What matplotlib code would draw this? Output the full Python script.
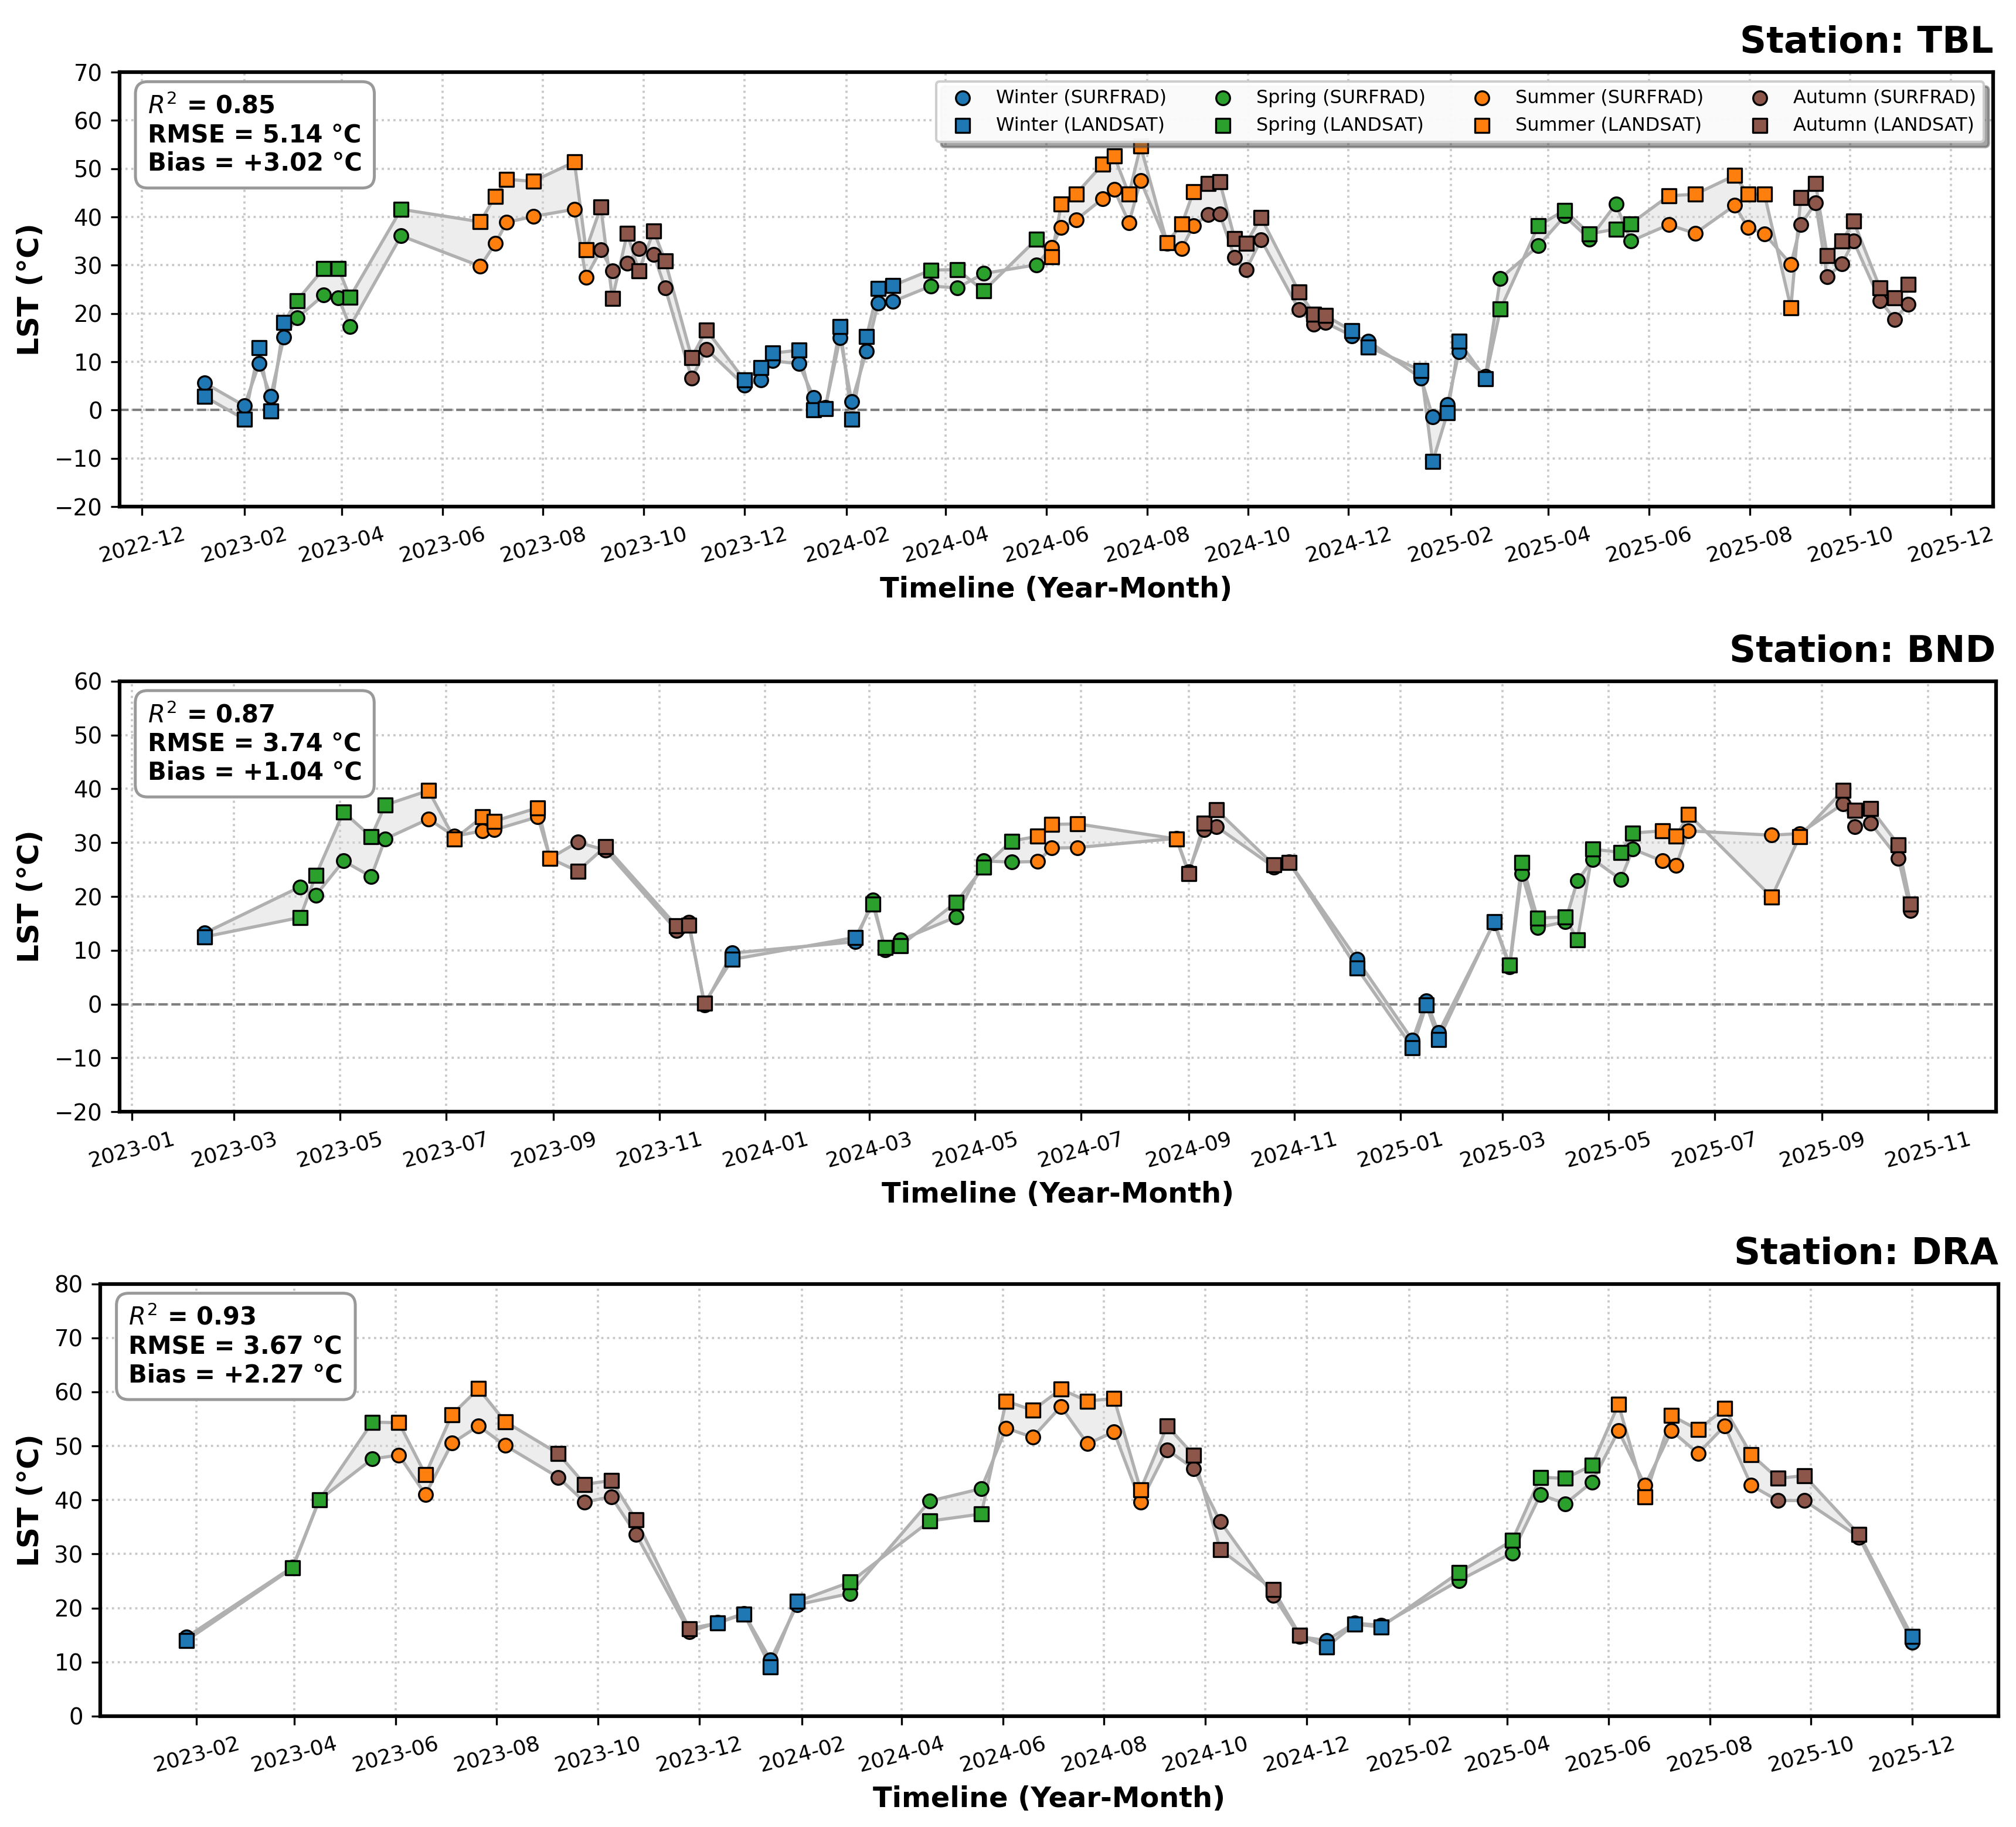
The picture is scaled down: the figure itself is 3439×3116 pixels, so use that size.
import numpy as np
import pandas as pd
import matplotlib
matplotlib.use("Agg")
import matplotlib.pyplot as plt
import matplotlib.dates as mdates

# ---- TBL ----
tbl_dates = ["2023-01-08", "2023-02-01", "2023-02-10", "2023-02-17", "2023-02-25", "2023-03-05",
             "2023-03-21", "2023-03-30", "2023-04-06", "2023-05-07", "2023-06-24", "2023-07-03",
             "2023-07-10", "2023-07-26", "2023-08-20", "2023-08-27", "2023-09-05", "2023-09-12",
             "2023-09-21", "2023-09-28", "2023-10-07", "2023-10-14", "2023-10-30", "2023-11-08",
             "2023-12-01", "2023-12-11", "2023-12-18", "2024-01-03", "2024-01-12", "2024-01-19",
             "2024-01-28", "2024-02-04", "2024-02-13", "2024-02-20", "2024-02-29", "2024-03-23",
             "2024-04-08", "2024-04-24", "2024-05-26", "2024-06-04", "2024-06-10", "2024-06-19",
             "2024-07-05", "2024-07-12", "2024-07-21", "2024-07-28", "2024-08-13", "2024-08-22",
             "2024-08-29", "2024-09-07", "2024-09-14", "2024-09-23", "2024-09-30", "2024-10-09",
             "2024-11-01", "2024-11-10", "2024-11-17", "2024-12-03", "2024-12-13", "2025-01-14",
             "2025-01-21", "2025-01-30", "2025-02-06", "2025-02-22", "2025-03-03", "2025-03-26",
             "2025-04-11", "2025-04-26", "2025-05-12", "2025-05-21", "2025-06-13", "2025-06-29",
             "2025-07-23", "2025-07-31", "2025-08-10", "2025-08-26", "2025-09-01", "2025-09-10",
             "2025-09-17", "2025-09-26", "2025-10-03", "2025-10-19", "2025-10-28", "2025-11-05"]
tbl_surfrad = [5.6, 0.9, 9.6, 2.9, 15.1, 19.1, 23.8, 23.3, 17.3, 36.1, 29.8, 34.5,
               38.9, 40.1, 41.6, 27.5, 33.2, 28.8, 30.4, 33.4, 32.2, 25.3, 6.6, 12.6,
               5.1, 6.2, 10.2, 9.6, 2.6, 0.5, 15.0, 1.7, 12.2, 22.2, 22.5, 25.7,
               25.3, 28.3, 30.1, 33.7, 37.8, 39.4, 43.8, 45.7, 38.8, 47.5, 34.5, 33.5,
               38.2, 40.5, 40.6, 31.6, 29.1, 35.3, 20.8, 17.8, 18.1, 15.4, 14.3, 6.6,
               -1.4, 1.2, 12.1, 7.0, 27.3, 34.0, 40.2, 35.4, 42.7, 35.0, 38.4, 36.6,
               42.4, 37.8, 36.5, 30.2, 38.4, 42.9, 27.6, 30.3, 35.0, 22.7, 18.8, 21.9]
tbl_landsat = [2.8, -1.9, 12.9, -0.2, 18.2, 22.7, 29.3, 29.3, 23.4, 41.6, 39.0, 44.3,
               47.8, 47.4, 51.4, 33.2, 42.1, 23.1, 36.6, 28.8, 37.1, 30.9, 10.9, 16.6,
               6.2, 8.8, 11.8, 12.4, 0.0, 0.3, 17.3, -1.9, 15.2, 25.2, 25.8, 29.0,
               29.1, 24.7, 35.4, 31.8, 42.7, 44.8, 50.9, 52.6, 44.7, 54.7, 34.7, 38.5,
               45.2, 46.9, 47.3, 35.5, 34.6, 39.9, 24.5, 19.9, 19.6, 16.4, 13.1, 8.2,
               -10.7, -0.5, 14.2, 6.5, 20.9, 38.2, 41.4, 36.5, 37.5, 38.6, 44.4, 44.7,
               48.6, 44.7, 44.7, 21.2, 44.0, 46.9, 32.0, 35.0, 39.1, 25.3, 23.2, 26.1]

# ---- BND ----
bnd_dates = ["2023-02-12", "2023-04-08", "2023-04-17", "2023-05-03", "2023-05-19", "2023-05-27",
             "2023-06-21", "2023-07-06", "2023-07-22", "2023-07-29", "2023-08-23", "2023-08-30",
             "2023-09-15", "2023-10-01", "2023-11-11", "2023-11-18", "2023-11-27", "2023-12-13",
             "2024-02-22", "2024-03-03", "2024-03-10", "2024-03-19", "2024-04-20", "2024-05-06",
             "2024-05-22", "2024-06-06", "2024-06-14", "2024-06-29", "2024-08-25", "2024-09-01",
             "2024-09-10", "2024-09-17", "2024-10-20", "2024-10-29", "2024-12-07", "2025-01-08",
             "2025-01-16", "2025-01-23", "2025-02-24", "2025-03-05", "2025-03-12", "2025-03-21",
             "2025-04-06", "2025-04-13", "2025-04-22", "2025-05-08", "2025-05-15", "2025-06-01",
             "2025-06-09", "2025-06-16", "2025-08-03", "2025-08-19", "2025-09-13", "2025-09-20",
             "2025-09-29", "2025-10-15", "2025-10-22"]
bnd_surfrad = [13.2, 21.8, 20.2, 26.6, 23.7, 30.7, 34.4, 31.2, 32.2, 32.4, 34.8, 27.1,
               30.1, 28.6, 13.7, 15.2, -0.2, 9.5, 11.6, 19.4, 10.1, 11.9, 16.2, 26.6,
               26.4, 26.5, 29.0, 29.1, 30.8, 24.6, 32.4, 33.0, 25.5, 26.4, 8.3, -6.7,
               0.6, -5.3, 15.1, 6.9, 24.3, 14.2, 15.3, 22.9, 26.9, 23.2, 28.8, 26.6,
               25.8, 32.2, 31.4, 31.7, 37.2, 33.0, 33.6, 27.1, 17.4]
bnd_landsat = [12.5, 16.1, 23.9, 35.7, 31.1, 37.0, 39.7, 30.7, 34.8, 34.0, 36.5, 27.1,
               24.7, 29.3, 14.5, 14.7, 0.2, 8.3, 12.4, 18.6, 10.5, 10.9, 18.9, 25.5,
               30.3, 31.2, 33.4, 33.5, 30.7, 24.3, 33.6, 36.1, 25.9, 26.3, 6.7, -8.1,
               -0.2, -6.6, 15.3, 7.3, 26.3, 16.0, 16.2, 11.9, 28.8, 28.2, 31.8, 32.2,
               31.2, 35.3, 19.9, 31.1, 39.7, 36.0, 36.4, 29.6, 18.6]

# ---- DRA ----
dra_dates = ["2023-01-26", "2023-03-31", "2023-04-16", "2023-05-18", "2023-06-03", "2023-06-19",
             "2023-07-05", "2023-07-21", "2023-08-06", "2023-09-07", "2023-09-23", "2023-10-09",
             "2023-10-24", "2023-11-25", "2023-12-12", "2023-12-28", "2024-01-13", "2024-01-29",
             "2024-03-01", "2024-04-18", "2024-05-19", "2024-06-03", "2024-06-19", "2024-07-06",
             "2024-07-22", "2024-08-07", "2024-08-23", "2024-09-08", "2024-09-24", "2024-10-10",
             "2024-11-11", "2024-11-27", "2024-12-13", "2024-12-30", "2025-01-15", "2025-03-03",
             "2025-04-04", "2025-04-21", "2025-05-06", "2025-05-22", "2025-06-07", "2025-06-23",
             "2025-07-09", "2025-07-25", "2025-08-10", "2025-08-26", "2025-09-11", "2025-09-27",
             "2025-10-30", "2025-12-01"]
dra_surfrad = [14.6, 27.6, 40.0, 47.6, 48.3, 41.0, 50.5, 53.7, 50.1, 44.2, 39.6, 40.6,
               33.6, 15.6, 17.3, 19.0, 10.4, 20.6, 22.7, 39.8, 42.1, 53.3, 51.6, 57.3,
               50.4, 52.6, 39.6, 49.3, 45.8, 36.0, 22.3, 14.7, 14.0, 17.2, 16.8, 25.1,
               30.2, 41.0, 39.3, 43.3, 52.8, 42.7, 52.8, 48.6, 53.7, 42.7, 39.9, 39.9,
               33.1, 13.7]
dra_landsat = [14.0, 27.4, 40.0, 54.4, 54.3, 44.7, 55.8, 60.6, 54.5, 48.6, 42.9, 43.6,
               36.3, 16.2, 17.2, 18.9, 9.1, 21.2, 24.8, 36.1, 37.4, 58.3, 56.6, 60.5,
               58.3, 58.8, 41.9, 53.7, 48.3, 30.8, 23.4, 15.0, 12.8, 17.0, 16.5, 26.6,
               32.5, 44.2, 44.0, 46.4, 57.7, 40.6, 55.6, 53.0, 56.9, 48.4, 44.0, 44.5,
               33.6, 14.7]

station_names = ["TBL", "BND", "DRA"]
r2_values = [0.85, 0.87, 0.93]
rmse_values = [5.14, 3.74, 3.67]
bias_values = [3.02, 1.04, 2.27]
ylims = [(-20, 70), (-20, 60), (0, 80)]
first_tick_month = [2, 1, 2]   # even / odd months on the date axis

season_names = ["Winter", "Spring", "Summer", "Autumn"]
season_colors = ["#1f77b4", "#2ca02c", "#ff7f0e", "#8c564b"]


def season_of(month):
	if month in (12, 1, 2):
		return "Winter"
	if month in (3, 4, 5):
		return "Spring"
	if month in (6, 7, 8):
		return "Summer"
	return "Autumn"


def plot_station(ax, k, dates, surf, land, legend):
	d = pd.to_datetime(dates)
	surf = np.array(surf)
	land = np.array(land)

	ax.fill_between(d, surf, land, color="lightgray", alpha=0.4, lw=0, zorder=1)
	ax.plot(d, surf, color="#b0b0b0", lw=1.3, zorder=2)
	ax.plot(d, land, color="#b0b0b0", lw=1.3, zorder=2)
	ax.axhline(0, color="gray", ls="--", lw=1, zorder=1.5)

	seasons = np.array([season_of(m) for m in d.month])
	for name, col in zip(season_names, season_colors):
		m = seasons == name
		ax.scatter(d[m], surf[m], marker="o", s=32, color=col, edgecolors="black",
				   linewidths=0.8, zorder=3, label=name + " (SURFRAD)")
		ax.scatter(d[m], land[m], marker="s", s=32, color=col, edgecolors="black",
				   linewidths=0.8, zorder=4, label=name + " (LANDSAT)")

	ax.set_ylim(ylims[k])
	ax.set_yticks(np.arange(ylims[k][0], ylims[k][1] + 1, 10))
	ax.xaxis.set_major_locator(mdates.MonthLocator(bymonth=range(first_tick_month[k], 13, 2)))
	ax.xaxis.set_major_formatter(mdates.DateFormatter("%Y-%m"))
	ax.tick_params(axis="x", labelsize=8.7, rotation=15)
	ax.tick_params(axis="y", labelsize=9.3)
	ax.grid(True, ls=":", color="#c8c8c8", lw=0.9)
	ax.set_axisbelow(True)
	for sp in ax.spines.values():
		sp.set_linewidth(1.5)

	ax.set_xlabel("Timeline (Year-Month)", fontsize=11.5, fontweight="bold")
	ax.set_ylabel("LST (°C)", fontsize=12, fontweight="bold")
	ax.set_title("Station: " + station_names[k], loc="right", fontsize=15,
				 fontweight="bold", pad=8)

	txt = "$R^2$ = %.2f\nRMSE = %.2f °C\nBias = %+.2f °C" % (r2_values[k], rmse_values[k], bias_values[k])
	ax.text(0.015, 0.95, txt, transform=ax.transAxes, va="top", ha="left",
			fontsize=10, fontweight="bold", zorder=6,
			bbox=dict(boxstyle="round,pad=0.5", facecolor="white", edgecolor="#999999", lw=1.2))

	if legend:
		ax.legend(loc="upper right", ncol=4, fontsize=7.65, shadow=True, framealpha=0.95)


fig = plt.figure(figsize=(3439 / 300, 3116 / 300), dpi=300)
ax1 = fig.add_axes([0.0593, 0.7227, 0.9294, 0.2378])
ax2 = fig.add_axes([0.0592, 0.3915, 0.9308, 0.2356])
ax3 = fig.add_axes([0.0497, 0.0607, 0.9416, 0.2366])

plot_station(ax1, 0, tbl_dates, tbl_surfrad, tbl_landsat, True)
plot_station(ax2, 1, bnd_dates, bnd_surfrad, bnd_landsat, False)
plot_station(ax3, 2, dra_dates, dra_surfrad, dra_landsat, False)

fig.savefig("out.png", dpi=300)
